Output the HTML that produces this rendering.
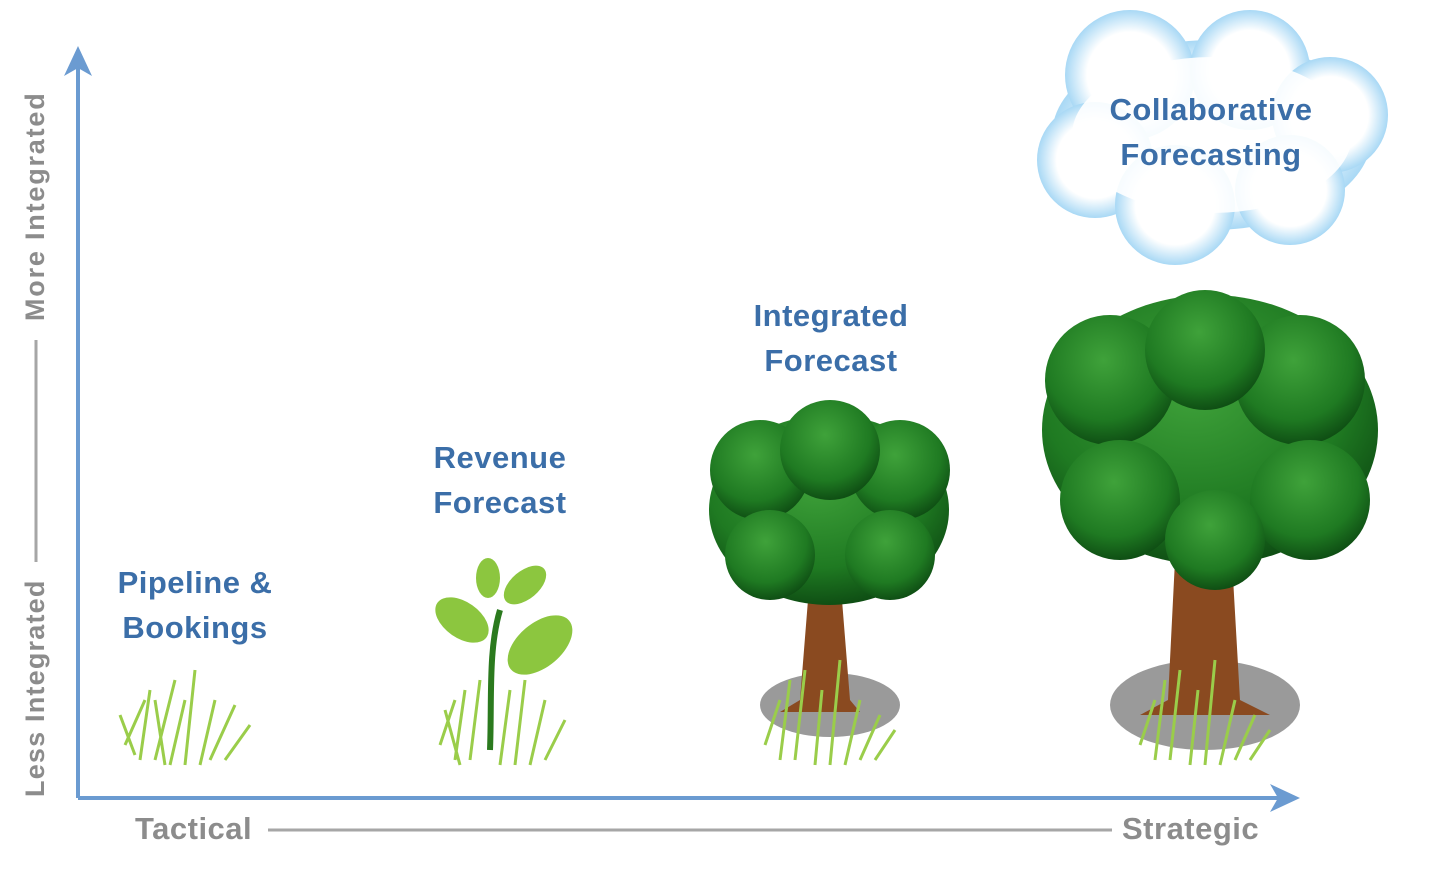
<!DOCTYPE html>
<html><head><meta charset="utf-8"><style>
body{margin:0;width:1439px;height:872px;background:#fff;overflow:hidden;font-family:"Liberation Sans",sans-serif;}
</style></head><body>
<svg width="1439" height="872" viewBox="0 0 1439 872" xmlns="http://www.w3.org/2000/svg">
<defs>
<radialGradient id="cg" cx="50%" cy="50%" r="55%">
<stop offset="60%" stop-color="#ffffff"/><stop offset="100%" stop-color="#8fcdf2"/></radialGradient>
<radialGradient id="tg" cx="45%" cy="35%" r="65%">
<stop offset="0%" stop-color="#3fa23a"/><stop offset="70%" stop-color="#1f7a22"/><stop offset="100%" stop-color="#0f4f14"/></radialGradient>
</defs>
<line x1="78" y1="62" x2="78" y2="798" stroke="#6b9bd1" stroke-width="4"/>
<polygon points="64,76 78,46 92,76 78,68" fill="#6b9bd1"/>
<line x1="78" y1="798" x2="1285" y2="798" stroke="#6b9bd1" stroke-width="4"/>
<polygon points="1270,784 1300,798 1270,812 1278,798" fill="#6b9bd1"/>
<text transform="translate(44,797) rotate(-90)" font-size="27" font-weight="bold" fill="#8c8c8c" letter-spacing="1.2">Less  Integrated</text>
<line x1="36" y1="340" x2="36" y2="562" stroke="#a6a6a6" stroke-width="3"/>
<text transform="translate(44,321) rotate(-90)" font-size="27" font-weight="bold" fill="#8c8c8c" letter-spacing="1.8">More  Integrated</text>
<text x="135" y="839" font-size="31" font-weight="bold" fill="#8c8c8c" letter-spacing="0.5">Tactical</text>
<line x1="268" y1="830" x2="1112" y2="830" stroke="#a6a6a6" stroke-width="3"/>
<text x="1122" y="839" font-size="31" font-weight="bold" fill="#8c8c8c" letter-spacing="0.5">Strategic</text>
<g fill="url(#cg)">
<ellipse cx="1212" cy="135" rx="160" ry="95"/>
<circle cx="1130" cy="75" r="65"/><circle cx="1250" cy="70" r="60"/><circle cx="1330" cy="115" r="58"/>
<circle cx="1095" cy="160" r="58"/><circle cx="1175" cy="205" r="60"/><circle cx="1290" cy="190" r="55"/>
</g>
<ellipse cx="1212" cy="135" rx="140" ry="78" fill="#fff" opacity="0.9"/>
<g font-size="31" font-weight="bold" fill="#3b6ea8" text-anchor="middle" letter-spacing="0.5">
<text x="1211" y="120">Collaborative</text><text x="1211" y="165">Forecasting</text>
<text x="831" y="326">Integrated</text><text x="831" y="371">Forecast</text>
<text x="500" y="468">Revenue</text><text x="500" y="513">Forecast</text>
<text x="195" y="593">Pipeline &amp;</text><text x="195" y="638">Bookings</text>
</g>
<ellipse cx="830" cy="705" rx="70" ry="32" fill="#9a9a9a"/>
<ellipse cx="1205" cy="705" rx="95" ry="45" fill="#9a9a9a"/>
<path d="M808,600 L800,700 L780,712 L860,712 L850,700 L842,600 Z" fill="#8a4a20"/>
<path d="M1175,560 L1168,700 L1140,715 L1270,715 L1240,700 L1232,560 Z" fill="#8a4a20"/>
<g fill="url(#tg)">
<ellipse cx="829" cy="510" rx="120" ry="95"/>
<circle cx="760" cy="470" r="50"/><circle cx="900" cy="470" r="50"/><circle cx="830" cy="450" r="50"/>
<circle cx="770" cy="555" r="45"/><circle cx="890" cy="555" r="45"/>
<ellipse cx="1210" cy="430" rx="168" ry="135"/>
<circle cx="1110" cy="380" r="65"/><circle cx="1300" cy="380" r="65"/><circle cx="1205" cy="350" r="60"/>
<circle cx="1120" cy="500" r="60"/><circle cx="1310" cy="500" r="60"/><circle cx="1215" cy="540" r="50"/>
</g>
<path d="M490,750 C492,700 488,650 500,610" stroke="#2b7a1e" stroke-width="6" fill="none"/>
<g fill="#8cc63f">
<ellipse cx="462" cy="620" rx="30" ry="18" transform="rotate(35 462 620)"/>
<ellipse cx="540" cy="645" rx="38" ry="22" transform="rotate(-40 540 645)"/>
<ellipse cx="525" cy="585" rx="25" ry="14" transform="rotate(-40 525 585)"/>
<ellipse cx="488" cy="578" rx="12" ry="20"/>
</g>
<g stroke="#9acd4a" stroke-width="3" fill="none">
<path d="M125,745 L145,700 M140,760 L150,690 M155,760 L175,680 M170,765 L185,700 M185,765 L195,670 M200,765 L215,700 M210,760 L235,705 M225,760 L250,725 M135,755 L120,715 M165,765 L155,700"/>
<path d="M440,745 L455,700 M455,760 L465,690 M470,760 L480,680 M500,765 L510,690 M515,765 L525,680 M530,765 L545,700 M545,760 L565,720 M460,765 L445,710"/>
<path d="M765,745 L780,700 M780,760 L790,680 M795,760 L805,670 M815,765 L822,690 M830,765 L840,660 M845,765 L860,700 M860,760 L880,715 M875,760 L895,730"/>
<path d="M1140,745 L1155,700 M1155,760 L1165,680 M1170,760 L1180,670 M1190,765 L1198,690 M1205,765 L1215,660 M1220,765 L1235,700 M1235,760 L1255,715 M1250,760 L1270,730"/>
</g>
</svg>
</body></html>
